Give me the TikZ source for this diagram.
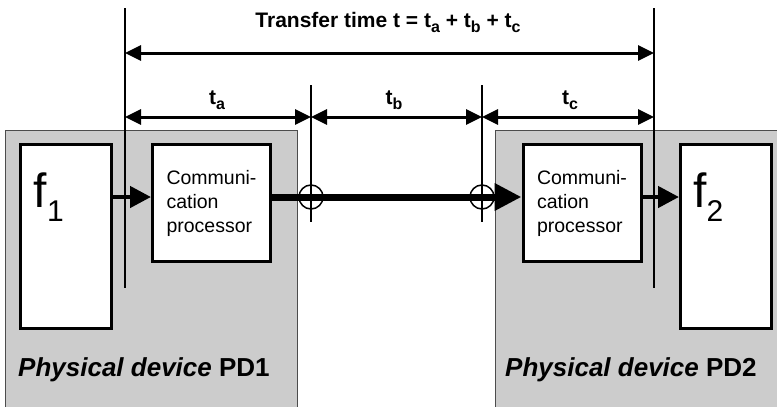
\documentclass[tikz,border=0pt]{standalone}
\usepackage{fontspec}
\setmainfont{Liberation Sans}
\usepackage{tikz}
\usetikzlibrary{arrows.meta, positioning, calc}
\tikzset{
    device/.style={
        rectangle,
        draw=black!70,
        line width=1pt,
        fill=black!20,
        inner sep=0pt
    },
    funcbox/.style={
        rectangle,
        draw=black,
        line width=3pt,
        minimum width=91pt,
        minimum height=184pt,
        fill=white
    },
    procbox/.style={
        rectangle,
        draw=black,
        line width=3pt,
        minimum width=118pt,
        minimum height=117pt,
        inner sep=4pt,
        align=left,
        fill=white,
        font=\fontsize{19.5}{24}\selectfont
    },
    fname/.style={
        inner sep=0pt,
        font=\fontsize{48}{48}\selectfont
    },
    devlabel/.style={
        inner sep=0pt,
        font=\fontsize{26}{30}\selectfont\bfseries
    },
    dimlabel/.style={
        inner sep=0pt,
        font=\fontsize{21}{25}\selectfont\bfseries
    },
    tick/.style={
        draw=black,
        line width=1.2pt
    },
    dimline/.style={
        draw=black,
        line width=3pt,
        {Triangle[length=16pt,width=15pt]}-{Triangle[length=16pt,width=15pt]}
    },
    flow/.style={
        draw=black,
        line width=4.5pt,
        -{Triangle[length=21pt,width=21pt]}
    },
    bus/.style={
        draw=black,
        line width=7pt,
        -{Triangle[length=27pt,width=26pt]}
    },
    joint/.style={
        circle,
        draw=black,
        line width=1.5pt,
        minimum size=24pt,
        inner sep=0pt
    }
}
\newcommand{\fidx}[1]{{\fontsize{30}{30}\selectfont\raisebox{-14pt}{#1}}}
\newcommand{\tidx}[1]{{\fontsize{16}{16}\selectfont\raisebox{-5pt}{#1}}}

\begin{document}
\begin{tikzpicture}[x=1pt, y=-1pt]

\useasboundingbox (0,0) rectangle (777,407);

% physical devices
\node[device, anchor=north west, minimum width=292pt, minimum height=290pt] (pd1) at (5,130) {};
\node[device, anchor=north west, minimum width=300pt, minimum height=290pt] (pd2) at (495,130) {};

% levels and dimension marks
\coordinate (top) at (0,8);
\coordinate (low) at (0,288);
\coordinate (mid) at (0,85);
\coordinate (midlow) at (0,222);
\coordinate (lvl) at (0,197);
\coordinate (t0) at (125,53);
\coordinate (t1) at (654,53);
\coordinate (m0) at (125,117);
\coordinate (m1) at (311,117);
\coordinate (m2) at (482,117);
\coordinate (m3) at (654,117);

\draw[tick] (m0 |- top) -- (m0 |- low);
\draw[tick] (m3 |- top) -- (m3 |- low);
\draw[tick] (m1 |- mid) -- (m1 |- midlow);
\draw[tick] (m2 |- mid) -- (m2 |- midlow);

\draw[dimline] (t0) -- (t1);
\draw[dimline] (m0) -- (m1);
\draw[dimline] (m1) -- (m2);
\draw[dimline] (m2) -- (m3);

\node[dimlabel] (ttot) at (388,22) {Transfer time t = t\tidx{a} + t\tidx{b} + t\tidx{c}};
\node[dimlabel] (ta) at (217,100) {t\tidx{a}};
\node[dimlabel] (tb) at (394,100) {t\tidx{b}};
\node[dimlabel] (tc) at (570,100) {t\tidx{c}};

% functions and processors
\node[funcbox] (f1) at (65.5,236.5) {};
\node[funcbox] (f2) at (726,236.5) {};
\node[procbox] (cp1) at (211.5,203) {Communi-\\cation\\processor};
\node[procbox] (cp2) at (582,203) {Communi-\\cation\\processor};

\node[fname, anchor=west] (f1txt) at ([xshift=15pt]f1.west |- lvl) {f\fidx{1}};
\node[fname, anchor=west] (f2txt) at ([xshift=14pt]f2.west |- lvl) {f\fidx{2}};

\node[joint] (j1) at (m1 |- lvl) {};
\node[joint] (j2) at (m2 |- lvl) {};

\draw[flow] (f1.east |- lvl) -- (cp1.west |- lvl);
\draw[bus] (cp1.east |- lvl) -- (cp2.west |- lvl);
\draw[flow] (cp2.east |- lvl) -- (f2.west |- lvl);

\node[devlabel, anchor=west] (pd1txt) at (18,370) {\textit{Physical device} PD1};
\node[devlabel, anchor=west] (pd2txt) at (505,370) {\textit{Physical device} PD2};

\end{tikzpicture}
\end{document}
